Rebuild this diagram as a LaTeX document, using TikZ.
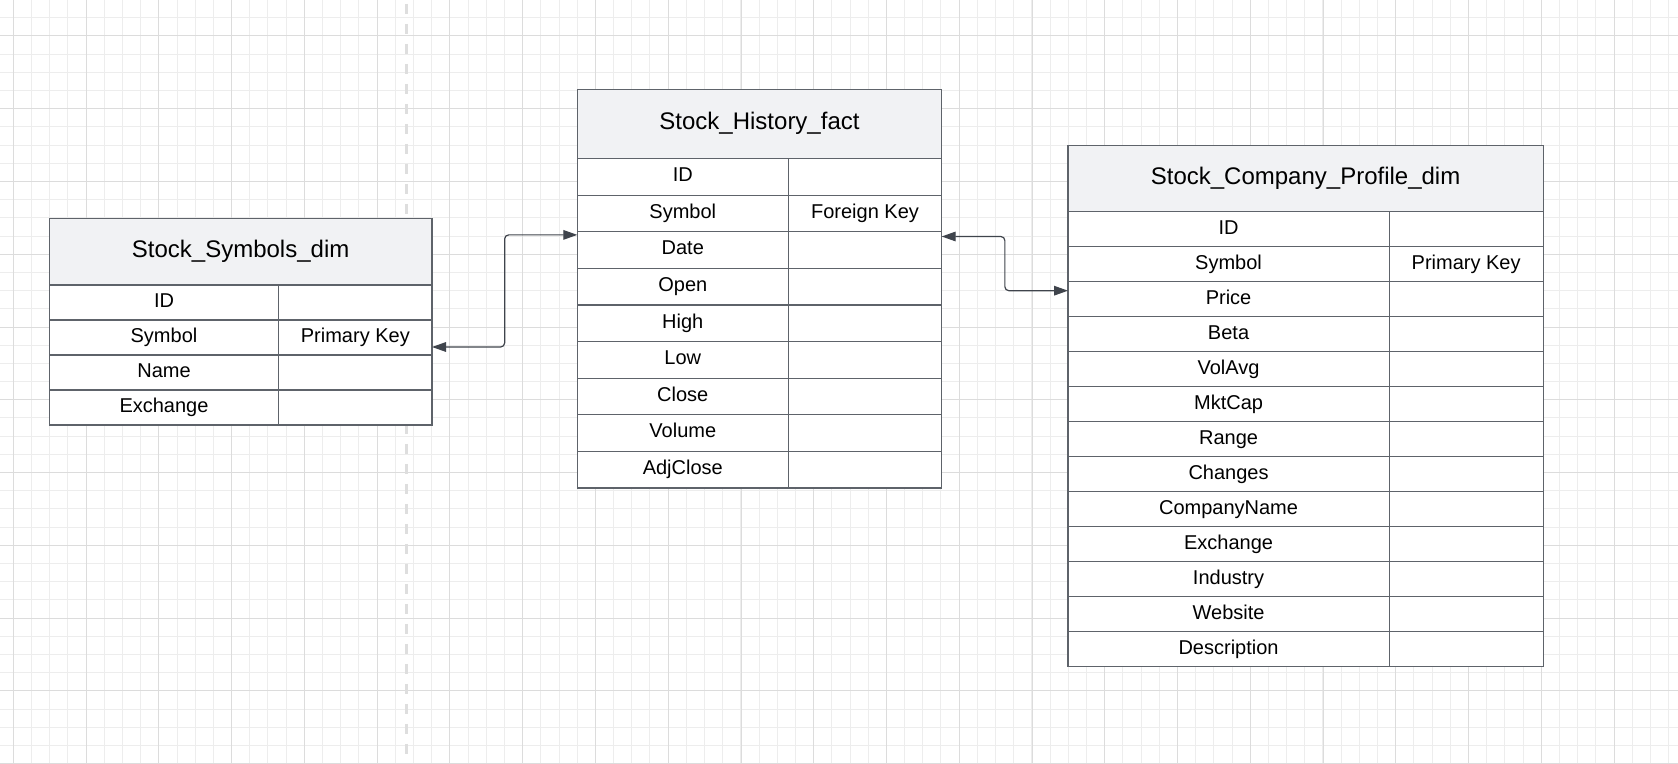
\documentclass[tikz,border=0pt]{standalone}
\usepackage{fontspec}
\setmainfont{Liberation Sans}
\usetikzlibrary{positioning,calc,arrows.meta}

\definecolor{gridminor}{HTML}{EDEDED}
\definecolor{gridmajor}{HTML}{DCDCDC}
\definecolor{sepline}{HTML}{DEDEDE}
\definecolor{headfill}{HTML}{F1F2F4}
\definecolor{tabline}{HTML}{5E636A}
\definecolor{linkcol}{HTML}{3F444C}

\tikzset{
  cell/.style={draw=tabline, fill=white, line width=0.6pt, inner sep=0pt, outer sep=0pt,
    text height=7.2pt, text depth=2.5pt, font=\fontsize{10}{12}\selectfont},
  head/.style={cell, fill=headfill, anchor=north west, text height=8.6pt,
    text depth=2.8pt, font=\fontsize{12}{14}\selectfont},
  link/.style={draw=linkcol, line width=0.6pt, rounded corners=2pt,
    {Triangle[length=7pt,width=4.8pt]}-{Triangle[length=7pt,width=4.8pt]}},
}

\begin{document}
\begin{tikzpicture}[x=0.5pt,y=-0.5pt]
  \useasboundingbox[fill=white] (0,0) rectangle (1678,764);
  % background grid
  \foreach \i in {0,...,91}{ \draw[gridminor, line width=0.5pt] ({13.3+18.19*\i},0) -- ++(0,764); }
  \foreach \i in {-1,...,40}{ \draw[gridminor, line width=0.5pt] (0,{36+18.19*\i}) -- ++(1678,0); }
  \foreach \i in {0,...,22}{ \draw[gridmajor, line width=0.5pt] ({13.3+72.77*\i},0) -- ++(0,764); }
  \foreach \i in {0,...,10}{ \draw[gridmajor, line width=0.5pt] (0,{36+72.77*\i}) -- ++(1678,0); }
  \draw[sepline, line width=1.5pt, dash pattern=on 5pt off 5pt] (406.3,4) -- (406.3,764);

  % Stock_Symbols_dim
  \node[head, minimum width=191.35pt, minimum height=33.35pt] (sym) at (49.3,218.3) {Stock\_Symbols\_dim};
  \foreach \f/\k [count=\i] in {ID/,Symbol/Primary Key,Name/,Exchange/}{
    \node[cell, anchor=north west, minimum width=114.7pt, minimum height=17.5pt, yshift={-(\i-1)*17.5pt}] (sym\i) at (sym.south west) {\f};
    \node[cell, minimum width=76.65pt, minimum height=17.5pt, right=0pt of sym\i] (symk\i) {\k};
  }

  % Stock_History_fact
  \node[head, minimum width=182.2pt, minimum height=34.7pt] (hist) at (577.3,89.3) {Stock\_History\_fact};
  \foreach \f/\k [count=\i] in {ID/,Symbol/Foreign Key,Date/,Open/,High/,Low/,Close/,Volume/,AdjClose/}{
    \node[cell, anchor=north west, minimum width=105.5pt, minimum height=18.3pt, yshift={-(\i-1)*18.3pt}] (hist\i) at (hist.south west) {\f};
    \node[cell, minimum width=76.7pt, minimum height=18.3pt, right=0pt of hist\i] (histk\i) {\k};
  }

  % Stock_Company_Profile_dim
  \node[head, minimum width=237.6pt, minimum height=33.2pt] (prof) at (1068,145.5) {Stock\_Company\_Profile\_dim};
  \foreach \f/\k [count=\i] in {ID/,Symbol/Primary Key,Price/,Beta/,VolAvg/,MktCap/,Range/,Changes/,CompanyName/,Exchange/,Industry/,Website/,Description/}{
    \node[cell, anchor=north west, minimum width=160.55pt, minimum height=17.5pt, yshift={-(\i-1)*17.5pt}] (prof\i) at (prof.south west) {\f};
    \node[cell, minimum width=77.05pt, minimum height=17.5pt, right=0pt of prof\i] (profk\i) {\k};
  }

  % links
  \coordinate (a1) at ([yshift=4pt]symk2.south east);
  \coordinate (a2) at ([yshift=-1.5pt]hist3.north west);
  \coordinate (m1) at ($(a1)!.5!(a2)$);
  \draw[link] (a1) -- (a1 -| m1) -- (a2 -| m1) -- (a2);
  \coordinate (b1) at ([yshift=-2.3pt]histk3.north east);
  \coordinate (b2) at ([yshift=-4.4pt]prof3.north west);
  \coordinate (m2) at ($(b1)!.5!(b2)$);
  \draw[link] (b1) -- (b1 -| m2) -- (b2 -| m2) -- (b2);
\end{tikzpicture}
\end{document}
